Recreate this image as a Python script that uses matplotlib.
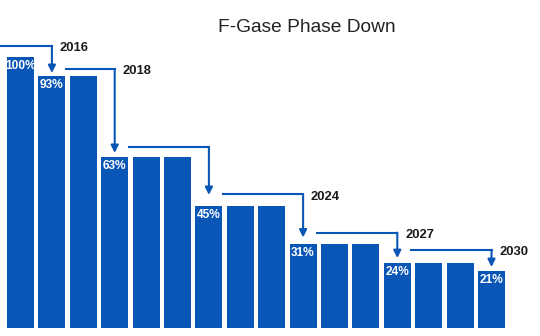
import matplotlib.pyplot as plt
import numpy as np

plt.rcParams['font.family'] = ['Liberation Sans', 'DejaVu Sans']

years = list(range(2015, 2031))
quota = [100, 93, 93, 63, 63, 63, 45, 45, 45, 31, 31, 31, 24, 24, 24, 21]

# phase-down steps: year the cut lands on, and the label shown
step_years = [2016, 2018, 2021, 2024, 2027, 2030]
step_labels = ['2016', '2018', '', '2024', '2027', '2030']

# arrow layout (y in % units)
line_levels = [104.1, 95.5, 66.8, 49.3, 35.2, 28.8]
arrow_tips = [94.1, 64.6, 49.1, 33.4, 25.8, 22.5]

BLUE = '#0a56b6'

fig = plt.figure(figsize=(5.4, 3.36), dpi=100)
ax = fig.add_axes([0, 8 / 336, 1, 328 / 336])

x = np.arange(len(years))
ax.bar(x, quota, width=0.86, color=BLUE)

# percent label on each bar where a step lands
for yr in [2015] + step_years:
    i = years.index(yr)
    ax.text(i, quota[i] - 3.2, f'{quota[i]}%', ha='center', va='center',
            color='white', fontsize=8.6, fontweight='bold')

start = -1.0
for yr, lab, lev, tip in zip(step_years, step_labels, line_levels, arrow_tips):
    i = years.index(yr)
    ax.plot([start, i], [lev, lev], color=BLUE, lw=1.5,
            solid_capstyle='projecting', solid_joinstyle='miter')
    ax.annotate('', xy=(i, tip), xytext=(i, lev),
                arrowprops=dict(arrowstyle='-|>', color=BLUE, lw=1.5,
                                shrinkA=0, shrinkB=0, mutation_scale=11))
    if lab:
        ax.text(i + 0.25, lev - 0.8, lab, ha='left', va='center',
                fontsize=9.4, fontweight='bold', color='#1a1a1a')
    start = i + 0.45

ax.set_xlim(-20.5 / 31.4, (540 - 20.5) / 31.4)
ax.set_ylim(0, 328 / 2.71)
ax.axis('off')

fig.text(0.568, 0.918, 'F-Gase Phase Down', ha='center', va='center',
         fontsize=13.8, color='#222222')

fig.savefig('out.png', dpi=100)
